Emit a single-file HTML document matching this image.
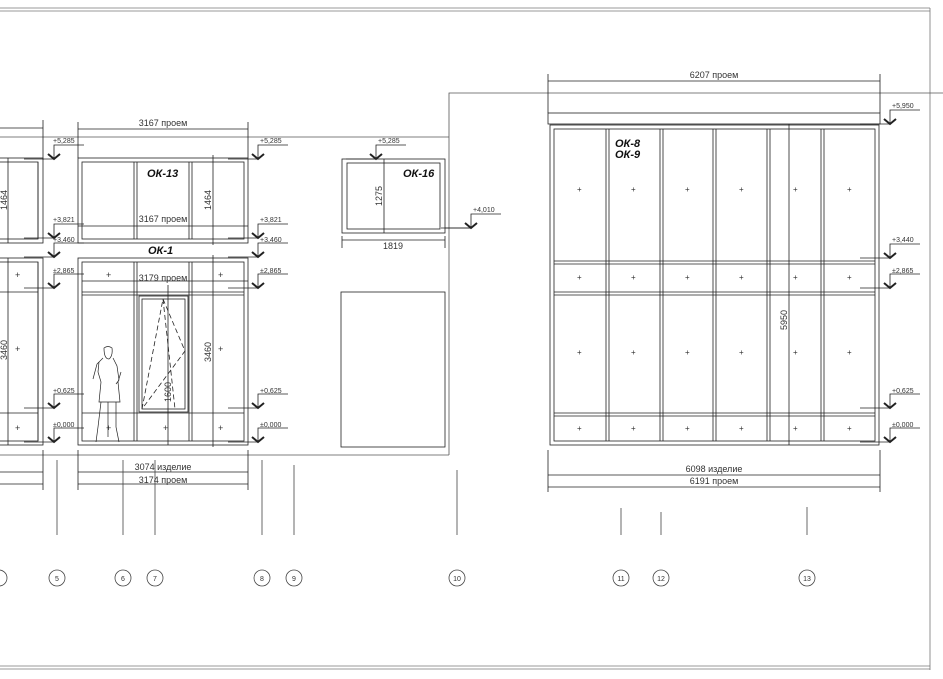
<!DOCTYPE html><html><head><style>body{margin:0;background:#fff}svg{display:block}text{font-family:"Liberation Sans",sans-serif;fill:#333;stroke:none}.s{font-size:7px}.d{font-size:9px}.b{font-size:11px;font-style:italic;font-weight:bold;fill:#111}</style></head><body>
<svg width="943" height="679" viewBox="0 0 943 679" fill="none" stroke="#222" stroke-width="0.8">
<defs><g id="mk">
<path d="M-30 0H0M0 0V-14H30"/><path d="M-6 -5L0 0L6 -5" stroke-width="2"/>
</g></defs>
<path d="M0 8H930M0 11H930M930 8V670M0 666H930M0 669H930" stroke="#777"/>
<path d="M0 137H449V93H943M449 93V455M0 455H449" stroke="#555"/>
<rect x="-5" y="158" width="48" height="85"/><rect x="-5" y="162" width="43" height="77"/>
<rect x="-5" y="258" width="48" height="187"/><rect x="-5" y="262" width="43" height="179"/>
<path d="M-5 292H38M-5 413H38M8 158V243M8 258V445M38 162V239M38 262V441"/>
<text class="d" transform="translate(7,200) rotate(-90)" text-anchor="middle">1464</text>
<text class="d" transform="translate(7,350) rotate(-90)" text-anchor="middle">3460</text>
<path d="M0 128H43M43 120V160M-5 472H43M-5 484H43M43 450V490"/>
<rect x="78" y="158" width="170" height="85"/><rect x="82" y="162" width="162" height="77"/>
<path d="M134 162V239M137 162V239M189 162V239M192 162V239M213 155V245M78 226H248"/>
<text class="b" x="147" y="177">ОК-13</text>
<text class="d" x="163" y="222" text-anchor="middle">3167 проем</text>
<text class="d" transform="translate(211,200) rotate(-90)" text-anchor="middle">1464</text>
<path d="M78 129H248M78 122V158M248 122V158"/>
<text class="d" x="163" y="126" text-anchor="middle">3167 проем</text>
<text class="b" x="148" y="254">ОК-1</text>
<rect x="78" y="258" width="170" height="187"/><rect x="82" y="262" width="162" height="179"/>
<path d="M134 262V441M137 262V441M189 262V441M192 262V441M82 292H244M82 295H244M82 413H244M213 255V447M168 285V445M82 281H248"/>
<rect x="139" y="296" width="49" height="116"/><rect x="142" y="299" width="43" height="110"/>
<path d="M142 409L163 299L185 351L142 409" stroke-dasharray="5 3"/>
<path d="M163 299L175 409" stroke-dasharray="5 3"/>
<text class="d" x="163" y="281" text-anchor="middle">3179 проем</text>
<text class="d" transform="translate(211,352) rotate(-90)" text-anchor="middle">3460</text>
<text class="d" transform="translate(171,392) rotate(-90)" text-anchor="middle">1600</text>
<g><text class="d" x="106" y="278">+</text><text class="d" x="218" y="278">+</text><text class="d" x="106" y="431">+</text><text class="d" x="163" y="431">+</text><text class="d" x="218" y="431">+</text><text class="d" x="218" y="352">+</text><text class="d" x="15" y="352">+</text><text class="d" x="15" y="431">+</text><text class="d" x="15" y="278">+</text></g>
<path d="M104 348q4-3 8 0q1 8-3 11q-5 0-5-11zM103 358l-6 6-4 15M113 358l4 8 2 14-3 4M99 362l-1 10 3 10-2 20h21l-2-20 3-10M101 402l-3 25-2 15M116 402l0 25 3 15M108 402v35" stroke-width="0.7"/>
<path d="M78 472H248M78 484H248M78 450V490M248 450V490"/>
<text class="d" x="163" y="470" text-anchor="middle">3074 изделие</text>
<text class="d" x="163" y="483" text-anchor="middle">3174 проем</text>
<rect x="342" y="159" width="103" height="74"/><rect x="347" y="163" width="93" height="66"/>
<path d="M384 159V233M342 240H445M342 236V248M445 236V248M445 228H470"/>
<text class="b" x="403" y="177">ОК-16</text>
<text class="d" transform="translate(382,196) rotate(-90)" text-anchor="middle">1275</text>
<text class="d" x="393" y="249" text-anchor="middle">1819</text>
<rect x="341" y="292" width="104" height="155"/>
<path d="M548 81H880M548 74V113M880 74V113"/>
<text class="d" x="714" y="78" text-anchor="middle">6207 проем</text>
<rect x="548" y="113" width="332" height="11"/>
<rect x="550" y="125" width="329" height="320"/><rect x="554" y="129" width="321" height="312"/>
<path d="M606 129V441M609 129V441M660 129V441M663 129V441M713 129V441M716 129V441M767 129V441M770 129V441M821 129V441M824 129V441M554 261H875M554 264H875M554 292H875M554 295H875M554 413H875M554 416H875M789 124V445"/>
<text class="b" x="615" y="147">ОК-8</text><text class="b" x="615" y="158">ОК-9</text>
<text class="d" transform="translate(787,320) rotate(-90)" text-anchor="middle">5950</text>
<g font-size="8">
<text x="577" y="192">+</text><text x="631" y="192">+</text><text x="685" y="192">+</text><text x="739" y="192">+</text><text x="793" y="192">+</text><text x="847" y="192">+</text>
<text x="577" y="280">+</text><text x="631" y="280">+</text><text x="685" y="280">+</text><text x="739" y="280">+</text><text x="793" y="280">+</text><text x="847" y="280">+</text>
<text x="577" y="355">+</text><text x="631" y="355">+</text><text x="685" y="355">+</text><text x="739" y="355">+</text><text x="793" y="355">+</text><text x="847" y="355">+</text>
<text x="577" y="431">+</text><text x="631" y="431">+</text><text x="685" y="431">+</text><text x="739" y="431">+</text><text x="793" y="431">+</text><text x="847" y="431">+</text>
</g>
<path d="M548 475H880M548 487H880M548 450V492M880 450V492"/>
<text class="d" x="714" y="472" text-anchor="middle">6098 изделие</text>
<text class="d" x="714" y="484" text-anchor="middle">6191 проем</text>
<g>
<use href="#mk" transform="translate(54,159)"/><use href="#mk" transform="translate(54,238)"/><use href="#mk" transform="translate(54,257)"/><use href="#mk" transform="translate(54,288)"/><use href="#mk" transform="translate(54,408)"/><use href="#mk" transform="translate(54,442)"/>
<use href="#mk" transform="translate(258,159)"/><use href="#mk" transform="translate(258,238)"/><use href="#mk" transform="translate(258,257)"/><use href="#mk" transform="translate(258,288)"/><use href="#mk" transform="translate(258,408)"/><use href="#mk" transform="translate(258,442)"/>
<use href="#mk" transform="translate(376,159)"/><use href="#mk" transform="translate(471,228)"/>
<use href="#mk" transform="translate(890,124)"/><use href="#mk" transform="translate(890,258)"/><use href="#mk" transform="translate(890,288)"/><use href="#mk" transform="translate(890,408)"/><use href="#mk" transform="translate(890,442)"/>
</g>
<g>
<text class="s" x="53" y="143">+5,285</text><text class="s" x="53" y="222">+3,821</text><text class="s" x="53" y="242">+3,460</text><text class="s" x="53" y="273">±2,865</text><text class="s" x="53" y="393">+0,625</text><text class="s" x="53" y="427">±0,000</text>
<text class="s" x="260" y="143">+5,285</text><text class="s" x="260" y="222">+3,821</text><text class="s" x="260" y="242">+3,460</text><text class="s" x="260" y="273">±2,865</text><text class="s" x="260" y="393">+0,625</text><text class="s" x="260" y="427">±0,000</text>
<text class="s" x="378" y="143">+5,285</text><text class="s" x="473" y="212">+4,010</text>
<text class="s" x="892" y="108">+5,950</text><text class="s" x="892" y="242">+3,440</text><text class="s" x="892" y="273">±2,865</text><text class="s" x="892" y="393">+0,625</text><text class="s" x="892" y="427">±0,000</text>
</g>
<path d="M57 460V535M123 460V535M155 460V535M262 460V535M294 465V535M457 470V535M621 508V535M661 512V535M807 507V535" stroke="#444"/>
<g stroke="#444"><circle cx="-1" cy="578" r="8"/><circle cx="57" cy="578" r="8"/><circle cx="123" cy="578" r="8"/><circle cx="155" cy="578" r="8"/><circle cx="262" cy="578" r="8"/><circle cx="294" cy="578" r="8"/><circle cx="457" cy="578" r="8"/><circle cx="621" cy="578" r="8"/><circle cx="661" cy="578" r="8"/><circle cx="807" cy="578" r="8"/></g>
<g font-size="7" text-anchor="middle">
<text x="57" y="581">5</text><text x="123" y="581">6</text><text x="155" y="581">7</text><text x="262" y="581">8</text><text x="294" y="581">9</text><text x="457" y="581">10</text><text x="621" y="581">11</text><text x="661" y="581">12</text><text x="807" y="581">13</text>
</g>
</svg></body></html>
